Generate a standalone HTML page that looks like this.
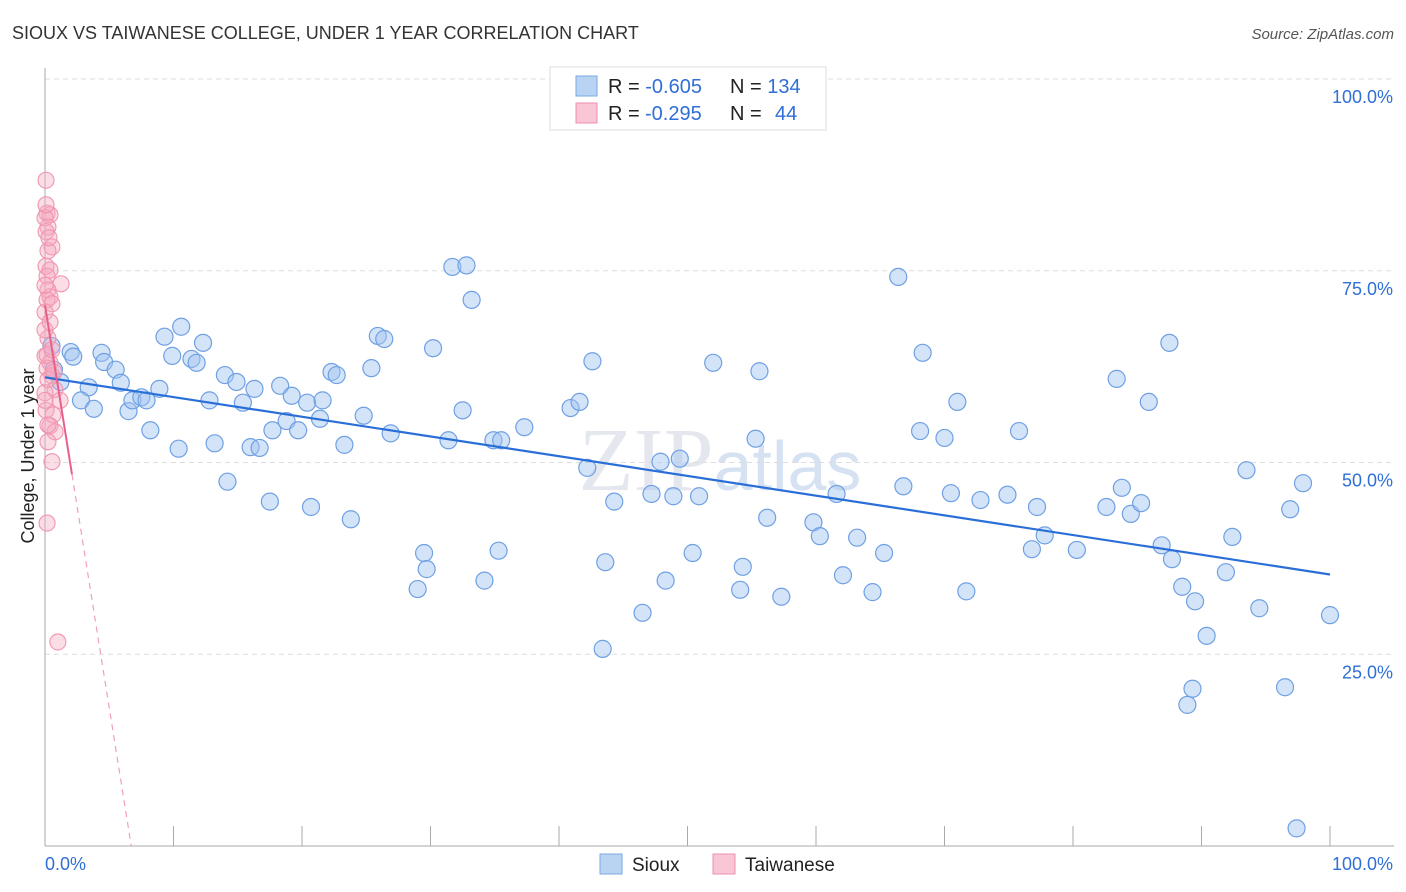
<!DOCTYPE html>
<html><head><meta charset="utf-8"><style>
body{margin:0;background:#fff;font-family:"Liberation Sans",sans-serif;}
svg{display:block}
</style></head><body>
<svg id="chart" width="1406" height="892" xmlns="http://www.w3.org/2000/svg" font-family="Liberation Sans, sans-serif">
<text x="12" y="39" font-size="18" fill="#333">SIOUX VS TAIWANESE COLLEGE, UNDER 1 YEAR CORRELATION CHART</text>
<text x="1394" y="39" font-size="15" fill="#555" text-anchor="end" font-style="italic">Source: ZipAtlas.com</text>
<text x="720" y="490" font-size="90" fill="#e4e8ee" text-anchor="middle" font-family="Liberation Serif, serif">ZIP<tspan font-family="Liberation Sans, sans-serif" font-size="70" fill="#d6e2f2">atlas</tspan></text>
<g id="grid"></g>
<g id="axes"></g>
<g id="pts"></g>
<g id="trend"></g>
<text transform="translate(34,456) rotate(-90)" font-size="18" fill="#222" text-anchor="middle">College, Under 1 year</text>
<g>
<rect x="550" y="67" width="276" height="63" fill="#fff" stroke="#ddd"/>
<rect x="576" y="76" width="21" height="20" fill="#b9d3f3" stroke="#7aaae6"/>
<text x="608" y="93" font-size="20" fill="#222">R = <tspan fill="#2f6fd6">-0.605</tspan><tspan x="730">N = </tspan><tspan fill="#2f6fd6">134</tspan></text>
<rect x="576" y="103" width="21" height="20" fill="#f8c6d4" stroke="#ee8fab"/>
<text x="608" y="120" font-size="20" fill="#222">R = <tspan x="645" fill="#2f6fd6">-0.295</tspan><tspan x="730">N = </tspan><tspan x="775" fill="#2f6fd6">44</tspan></text>
</g>
<g>
<rect x="600" y="854" width="22" height="20" fill="#b9d3f3" stroke="#7aaae6"/>
<text x="632" y="871" font-size="19" fill="#222">Sioux</text>
<rect x="713" y="854" width="22" height="20" fill="#f8c6d4" stroke="#ee8fab"/>
<text x="745" y="871" font-size="19" fill="#222">Taiwanese</text>
</g>
</svg>
<script>
const blueX=[2.0,2.2,4.4,4.6,5.5,3.4,5.9,2.8,3.8,6.5,6.8,7.5,7.9,8.9,8.2,9.3,10.6,9.9,11.4,11.8,12.3,12.8,10.4,13.2,14.0,14.9,15.4,16.3,16.0,16.7,14.2,17.5,17.7,18.8,18.3,19.2,19.7,20.4,21.4,21.6,22.3,22.7,20.7,23.3,23.8,24.8,25.4,25.9,26.4,26.9,30.2,29.5,29.7,29.0,31.4,31.7,32.8,33.2,32.5,34.9,35.5,35.3,34.2,37.3,40.9,41.6,42.6,42.2,44.3,43.6,43.4,46.5,47.2,47.9,48.9,49.4,50.9,50.4,48.3,52.0,55.6,55.3,56.2,54.3,54.1,57.3,59.8,60.3,61.6,63.2,62.1,64.4,65.3,66.4,66.8,68.3,68.1,70.0,71.0,70.5,71.7,72.8,74.9,75.8,77.2,77.8,76.8,80.3,82.6,83.4,83.8,84.5,85.3,85.9,87.5,86.9,87.7,88.5,89.5,90.4,89.3,88.9,92.4,91.9,93.5,94.5,96.9,97.9,96.5,100,97.4,0.7,0.5,1.2];
const blueY=[64.4,63.8,64.3,63.1,62.1,59.8,60.4,58.1,57.0,56.7,58.1,58.5,58.1,59.6,54.2,66.4,67.7,63.9,63.5,63.0,65.6,58.1,51.8,52.5,61.4,60.5,57.8,59.6,52.0,51.9,47.5,44.9,54.2,55.4,60.0,58.7,54.2,57.8,55.7,58.1,61.8,61.4,44.2,52.3,42.6,56.1,62.3,66.5,66.1,53.8,64.9,38.2,36.1,33.5,52.9,75.5,75.7,71.2,56.8,52.9,52.9,38.5,34.6,54.6,57.1,57.9,63.2,49.3,44.9,37.0,25.7,30.4,45.9,50.1,45.6,50.5,45.6,38.2,34.6,63.0,61.9,53.1,42.8,36.4,33.4,32.5,42.2,40.4,45.9,40.2,35.3,33.1,38.2,74.2,46.9,64.3,54.1,53.2,57.9,46.0,33.2,45.1,45.8,54.1,44.2,40.5,38.7,38.6,44.2,60.9,46.7,43.3,44.7,57.9,65.6,39.2,37.4,33.8,31.9,27.4,20.5,18.4,40.3,35.7,49.0,31.0,43.9,47.3,20.7,30.1,2.3,62.1,65.2,60.5];
const pinkX=[0.08,0.16,0.39,0,0.23,0.08,0.54,0.23,0.08,0.39,0.16,1.25,0.23,0.39,0.16,0.54,0,0.23,0,0.39,0.16,0.54,0.23,0.78,1.17,0,0.39,0.78,0.23,0.54,0.16,1.0,0,0.39,0.08,0.62,0.16,0.54,0,0.31,0,0.23,0.08,0.7];
const pinkY=[86.8,82.5,82.3,81.9,80.7,80.1,78.1,77.6,75.6,75.1,74.3,73.3,72.5,71.6,71.2,70.7,69.6,66.2,63.9,63.0,62.3,61.3,60.8,59.5,58.1,59.1,54.8,54.0,52.7,50.1,42.1,26.6,67.3,68.3,56.8,56.2,64.0,64.7,73.1,79.3,58.1,54.9,83.6,61.8];
const blueTrend=[61.1,35.4];
const pinkTrend=[70.5,-10.5];
const yTicks=[100,75,50,25];
const yTickLabels=["100.0%","75.0%","50.0%","25.0%"];
const xTicks=[0,10,20,30,40,50,60,70,80,90,100];
const NS="http://www.w3.org/2000/svg";
const sx=v=>45+v*12.85, sy=v=>846-v*7.67;
function mk(t,a,p){const e=document.createElementNS(NS,t);for(const k in a)e.setAttribute(k,a[k]);p.appendChild(e);return e;}
const grid=document.getElementById('grid'),axes=document.getElementById('axes'),pts=document.getElementById('pts'),tr=document.getElementById('trend');
yTicks.forEach((v,i)=>{
 const l=mk('line',{x1:45,x2:1394,y1:sy(v),y2:sy(v),stroke:'#ddd','stroke-dasharray':'5,4'},grid);
 
 
 const t=mk('text',{x:1393,y:sy(v)+24,'font-size':18,fill:'#2f6fd6','text-anchor':'end'},axes);
 t.textContent=yTickLabels[i];
 
 
});
const ax=mk('line',{x1:45,x2:45,y1:68,y2:846,stroke:'#aaa'},axes);


const bx=mk('line',{x1:45,x2:1394,y1:846,y2:846,stroke:'#aaa'},axes);


xTicks.forEach(v=>{const t=mk('line',{x1:sx(v),x2:sx(v),y1:826,y2:846,stroke:'#aaa'},axes);
 
 });
const xl=mk('text',{x:45,y:870,'font-size':18,fill:'#2f6fd6'},axes);xl.textContent='0.0%';


const xr=mk('text',{x:1393,y:870,'font-size':18,fill:'#2f6fd6','text-anchor':'end'},axes);xr.textContent='100.0%';


blueX.forEach((x,i)=>{const c=mk('circle',{cx:sx(x),cy:sy(blueY[i]),r:8.5,fill:'rgba(160,196,240,0.45)',stroke:'#6fa0e4','stroke-width':1.2},pts);
 
 });
pinkX.forEach((x,i)=>{const c=mk('circle',{cx:sx(x),cy:sy(pinkY[i]),r:8,fill:'rgba(246,170,192,0.4)',stroke:'#f095b0','stroke-width':1.1},pts);
 
 });
const bl=mk('line',{x1:sx(0),y1:sy(blueTrend[0]),x2:sx(100),y2:sy(blueTrend[1]),stroke:'#2a6fd8','stroke-width':2.2},tr);


const pl=mk('line',{x1:sx(0),y1:sy(pinkTrend[0]),x2:sx(2.1),y2:sy(pinkTrend[0]+pinkTrend[1]*2.1),stroke:'#e8608a','stroke-width':2},tr);


const xe=-pinkTrend[0]/pinkTrend[1];
const pd=mk('line',{x1:sx(2.1),y1:sy(pinkTrend[0]+pinkTrend[1]*2.1),x2:sx(xe),y2:sy(0),stroke:'#f0a0b8','stroke-width':1.2,'stroke-dasharray':'6,5'},tr);


</script>
</body></html>
